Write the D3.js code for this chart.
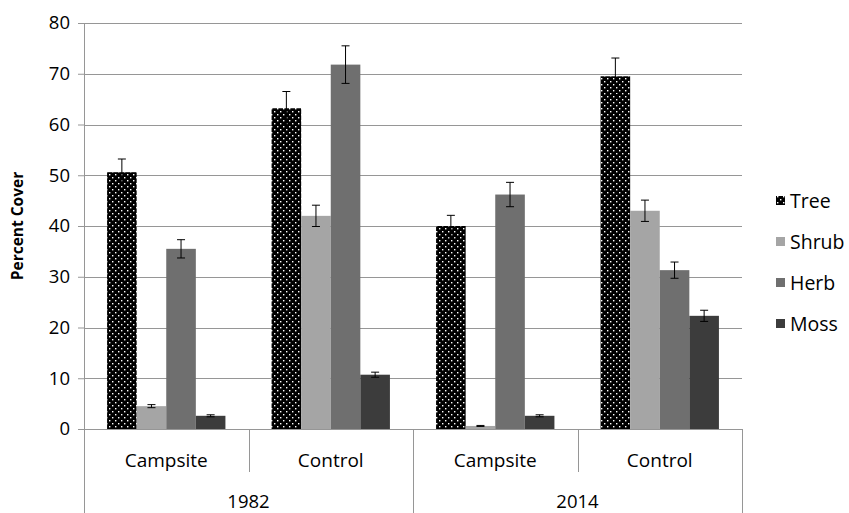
<!DOCTYPE html>
<html>
<head>
<meta charset="utf-8">
<script src="https://cdn.jsdelivr.net/npm/d3@7"></script>
<style>
  body { margin: 0; background: #fff; }
  text { font-family: "Open Sans", "Noto Sans", sans-serif; fill: #000; }
</style>
</head>
<body>
<svg></svg>
<script>
var years = ["1982", "2014"];
var sites = ["Campsite", "Control"];
var series = ["Tree", "Shrub", "Herb", "Moss"];
// one value per group: 1982 Campsite, 1982 Control, 2014 Campsite, 2014 Control
var tree = [50.6, 63.2, 40.0, 69.5];
var treeErr = [2.6, 3.3, 2.1, 3.6];
var shrub = [4.5, 42.0, 0.6, 43.0];
var shrubErr = [0.3, 2.1, 0.1, 2.1];
var herb = [35.5, 71.8, 46.2, 31.3];
var herbErr = [1.8, 3.7, 2.4, 1.6];
var moss = [2.6, 10.7, 2.6, 22.3];
var mossErr = [0.2, 0.5, 0.2, 1.1];
var yTicks = [0, 10, 20, 30, 40, 50, 60, 70, 80];

var width = 849, height = 513;
var margins = { left: 84, right: 107, top: 23, bottom: 84 };
var plotW = width - margins.left - margins.right;
var plotH = height - margins.top - margins.bottom;

var svg = d3.select("svg").attr("width", width).attr("height", height);

var defs = svg.append("defs");
var pat = defs.append("pattern")
  .attr("id", "dots")
  .attr("patternUnits", "userSpaceOnUse")
  .attr("width", 6).attr("height", 6);
pat.append("rect").attr("width", 6).attr("height", 6).attr("fill", "#000");
pat.append("rect").attr("x", 1).attr("y", 1).attr("width", 1.4).attr("height", 1.4).attr("fill", "#fff");
pat.append("rect").attr("x", 4).attr("y", 4).attr("width", 1.4).attr("height", 1.4).attr("fill", "#fff");

var colors = { Tree: "url(#dots)", Shrub: "#a5a5a5", Herb: "#6f6f6f", Moss: "#3c3c3c" };
var values = { Tree: tree, Shrub: shrub, Herb: herb, Moss: moss };
var errs = { Tree: treeErr, Shrub: shrubErr, Herb: herbErr, Moss: mossErr };

var groups = [];
years.forEach(y => sites.forEach(s => groups.push(y + " " + s)));

var x0 = d3.scaleBand().domain(groups).range([0, plotW]);
var x1 = d3.scaleBand().domain(series).range([0, x0.bandwidth()]).paddingOuter(0.78).paddingInner(0);
var y = d3.scaleLinear().domain([0, 80]).range([plotH, 0]);

var g = svg.append("g").attr("transform", "translate(" + margins.left + "," + margins.top + ")");

// gridlines
g.append("g")
  .selectAll("line")
  .data(yTicks.slice(1))
  .enter().append("line")
  .attr("x1", 0).attr("x2", plotW)
  .attr("y1", d => Math.round(y(d)) + 0.5).attr("y2", d => Math.round(y(d)) + 0.5)
  .attr("stroke", "#969696");

// y axis
g.append("g")
  .call(d3.axisLeft(y).tickValues(yTicks).tickSize(6).tickPadding(8))
  .call(a => a.select(".domain").attr("stroke", "#969696"))
  .call(a => a.selectAll(".tick line").attr("stroke", "#969696"))
  .call(a => a.selectAll(".tick text").attr("font-size", 18.5).attr("font-family", "Open Sans"));

// bars
var bars = [];
groups.forEach((gr, i) => series.forEach(s => bars.push({ group: gr, series: s, value: values[s][i], err: errs[s][i] })));

g.selectAll("rect.bar")
  .data(bars)
  .enter().append("rect")
  .attr("class", "bar")
  .attr("x", d => x0(d.group) + x1(d.series))
  .attr("width", x1.bandwidth())
  .attr("y", d => y(d.value))
  .attr("height", d => y(0) - y(d.value))
  .attr("fill", d => colors[d.series]);

// error bars
var eb = g.selectAll("g.err").data(bars).enter().append("g")
  .attr("class", "err")
  .attr("transform", d => "translate(" + (x0(d.group) + x1(d.series) + x1.bandwidth() / 2) + ",0)");
eb.append("line")
  .attr("y1", d => y(d.value - d.err)).attr("y2", d => y(d.value + d.err))
  .attr("stroke", "#000");
eb.append("line")
  .attr("x1", -4).attr("x2", 4)
  .attr("y1", d => y(d.value + d.err)).attr("y2", d => y(d.value + d.err))
  .attr("stroke", "#000");
eb.append("line")
  .attr("x1", -4).attr("x2", 4)
  .attr("y1", d => y(d.value - d.err)).attr("y2", d => y(d.value - d.err))
  .attr("stroke", "#000");

// category axis
var cat = g.append("g").attr("transform", "translate(0," + plotH + ")");
cat.append("line").attr("x1", 0).attr("x2", plotW).attr("y1", 0.5).attr("y2", 0.5).attr("stroke", "#969696");
groups.forEach((gr, i) => {
  var xs = Math.round(x0(gr)) + 0.5;
  cat.append("line").attr("x1", xs).attr("x2", xs).attr("y1", 0)
    .attr("y2", i % 2 === 0 ? margins.bottom : 43).attr("stroke", "#969696");
  cat.append("text")
    .attr("x", x0(gr) + x0.bandwidth() / 2).attr("y", 38)
    .attr("text-anchor", "middle").attr("font-size", 19)
    .text(sites[i % 2]);
});
cat.append("line").attr("x1", plotW + 0.5).attr("x2", plotW + 0.5).attr("y1", 0).attr("y2", margins.bottom).attr("stroke", "#969696");
years.forEach((yr, i) => {
  cat.append("text")
    .attr("x", (x0(groups[i * 2]) + x0(groups[i * 2 + 1]) + x0.bandwidth()) / 2).attr("y", 79)
    .attr("text-anchor", "middle").attr("font-size", 18.5)
    .text(yr);
});

// y label
svg.append("text")
  .attr("transform", "translate(23," + (margins.top + plotH / 2) + ") rotate(-90)")
  .attr("text-anchor", "middle").attr("font-size", 15.5).attr("font-weight", "bold")
  .text("Percent Cover");

// legend
var leg = svg.append("g").attr("transform", "translate(776,201)");
series.forEach((s, i) => {
  var row = leg.append("g").attr("transform", "translate(0," + i * 41 + ")");
  row.append("rect").attr("x", 0).attr("y", -5).attr("width", 9).attr("height", 9).attr("fill", colors[s]);
  row.append("text").attr("x", 14).attr("y", 7).attr("font-size", 19.5).text(s);
});
</script>
</body>
</html>
